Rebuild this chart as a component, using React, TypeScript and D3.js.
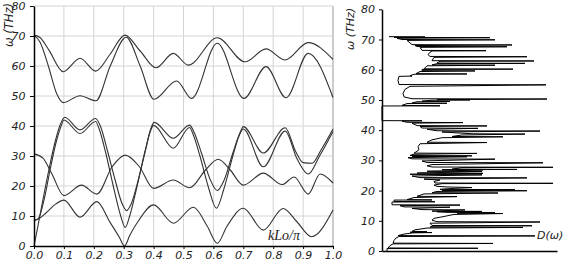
import React, { useRef, useEffect } from 'react';
import * as d3 from 'd3';

type Pt = [number, number];

// tick values
const kTicks = [0, 0.1, 0.2, 0.3, 0.4, 0.5, 0.6, 0.7, 0.8, 0.9, 1.0];
const omegaTicks = [0, 10, 20, 30, 40, 50, 60, 70, 80];

// dispersion branches [kLo/pi, omega THz]
const bandTopUpper: Pt[] = [
  [0, 70.3], [0.02, 69.5], [0.05, 65.3], [0.098, 58.1], [0.154, 62.6], [0.206, 58.3],
  [0.255, 64], [0.304, 70.3], [0.355, 65], [0.408, 59.4], [0.466, 64.2], [0.516, 60.3],
  [0.613, 69.4], [0.706, 61.4], [0.776, 65.7], [0.839, 62], [0.917, 67.8], [1.0, 62.2],
];
const bandTopLower: Pt[] = [
  [0, 70.3], [0.02, 68], [0.048, 60], [0.075, 51], [0.098, 47.8], [0.154, 50.1], [0.207, 48.4],
  [0.255, 60], [0.308, 69.6], [0.355, 60], [0.401, 48.9], [0.477, 55], [0.527, 49.2],
  [0.613, 67.6], [0.702, 49.2], [0.776, 59.8], [0.843, 49.4], [0.917, 64.2], [1.0, 49.5],
];
const bandPairUpper: Pt[] = [
  [0, 0], [0.01, 5], [0.03, 15.5], [0.05, 25.5], [0.07, 34.5], [0.088, 40.5], [0.103, 42.9],
  [0.154, 38.7], [0.206, 42.5], [0.222, 40], [0.245, 32], [0.27, 22.5], [0.295, 14],
  [0.31, 11.8], [0.325, 14], [0.35, 22.5], [0.373, 32], [0.392, 39.5], [0.402, 41.2],
  [0.466, 35.9], [0.52, 40.3], [0.535, 38], [0.56, 31], [0.59, 22], [0.613, 18.5],
  [0.636, 22], [0.665, 31], [0.69, 38], [0.7, 39.8], [0.767, 31], [0.84, 39.4],
  [0.875, 31.5], [0.9, 27.8], [0.93, 27.6], [0.96, 32], [1.0, 39],
];
const bandPairLower: Pt[] = [
  [0, 8.5], [0.015, 9.2], [0.035, 16], [0.055, 26], [0.075, 35], [0.09, 39.8], [0.1, 42],
  [0.154, 37.5], [0.206, 41.5], [0.218, 39], [0.24, 31], [0.265, 20], [0.29, 10],
  [0.305, 6.2], [0.32, 10], [0.345, 20], [0.37, 31], [0.39, 38.5], [0.4, 40.2],
  [0.466, 32.6], [0.52, 39.5], [0.533, 37], [0.555, 30], [0.585, 19], [0.61, 12.6],
  [0.635, 19], [0.665, 30], [0.687, 37], [0.7, 39], [0.767, 26.4], [0.84, 38.3],
  [0.88, 29], [0.917, 24], [0.955, 30], [1.0, 38.2],
];
const bandMiddle: Pt[] = [
  [0, 30.7], [0.03, 29.3], [0.06, 24], [0.1, 16.8], [0.159, 20.3], [0.21, 17.3],
  [0.262, 26.5], [0.305, 30.3], [0.352, 26.5], [0.4, 19.2], [0.466, 22], [0.52, 19.4],
  [0.575, 25.5], [0.616, 28.9], [0.655, 25.5], [0.7, 20.3], [0.767, 24.3], [0.83, 20.5],
  [0.87, 23], [0.917, 17.3], [0.957, 24], [1.0, 21],
];
const bandLowest: Pt[] = [
  [0, 8.5], [0.015, 9], [0.04, 11], [0.07, 13.8], [0.1, 15.3], [0.154, 9.6], [0.21, 14.8],
  [0.255, 7.8], [0.285, 3], [0.303, 0], [0.32, 3.5], [0.35, 8.5], [0.4, 13.7], [0.466, 7.6],
  [0.533, 12.9], [0.58, 6.5], [0.613, 0.9], [0.645, 6.5], [0.7, 12.6], [0.767, 5.3],
  [0.833, 12.5], [0.88, 8], [0.928, 3.1], [1.0, 12],
];
const bands = [bandTopUpper, bandTopLower, bandPairUpper, bandPairLower, bandMiddle, bandLowest];

// density of states [omega THz, D arb.]
const dos: Pt[] = [
  [0, 5], [0.8, 5], [0.9, 96], [1.0, 6], [1.8, 8], [2.35, 11], [2.5, 111], [2.6, 11],
  [3.5, 12], [4.3, 14], [4.8, 17], [5.0, 153], [5.1, 16], [5.6, 22], [6.0, 31], [6.1, 50],
  [6.2, 28], [6.4, 45], [6.5, 30], [7.0, 33], [7.6, 45], [7.8, 141], [7.9, 48], [8.2, 50],
  [8.35, 150], [8.45, 50], [9.2, 48], [9.6, 158], [9.7, 55], [10.2, 50], [10.8, 52],
  [11.3, 60], [12.1, 72], [12.4, 121], [12.5, 75], [12.7, 113], [12.8, 65], [13.0, 55],
  [13.1, 100], [13.2, 50], [13.6, 83], [13.7, 40], [14.1, 30], [14.5, 68], [14.6, 22],
  [15.0, 18], [15.2, 78], [15.3, 10], [16.2, 10], [16.3, 53], [16.4, 12], [16.85, 12],
  [16.9, 50], [17.0, 25], [17.7, 32], [18.0, 75], [18.1, 35], [18.9, 42], [19.2, 116],
  [19.3, 50], [19.7, 55], [19.95, 145], [20.05, 60], [20.3, 133], [20.4, 58], [20.7, 70],
  [21.0, 90], [21.2, 65], [21.4, 55], [21.8, 52], [22.3, 60], [22.4, 171], [22.5, 53],
  [23.0, 52], [23.5, 58], [23.8, 42], [24.2, 145], [24.3, 38], [24.8, 30], [25.2, 100],
  [25.4, 28], [25.7, 101], [25.8, 35], [26.3, 100], [26.4, 45], [26.8, 101], [26.9, 60],
  [27.0, 135], [27.1, 70], [27.6, 80], [27.7, 171], [27.8, 50], [28.2, 45], [28.6, 50],
  [29.2, 161], [29.3, 45], [29.8, 40], [30.4, 113], [30.5, 30], [30.9, 26], [31.2, 85],
  [31.3, 30], [31.5, 90], [31.6, 28], [32.0, 31], [32.3, 95], [32.4, 32], [33.0, 35],
  [33.5, 37], [34.5, 36], [35.5, 38], [35.9, 105], [36.0, 45], [36.8, 50], [37.5, 60],
  [37.8, 121], [37.9, 70], [38.4, 80], [38.7, 143], [38.8, 90], [39.4, 60], [39.7, 158],
  [39.8, 55], [40.3, 45], [40.6, 96], [40.7, 40], [41.2, 38], [41.4, 105], [41.5, 35],
  [42.3, 30], [42.5, 81], [42.6, 25], [43.0, 20], [43.1, 40], [43.15, 0], [48.0, 0],
  [48.05, 58], [48.2, 20], [48.8, 25], [48.9, 65], [49.0, 30], [49.4, 35], [49.5, 68],
  [49.6, 40], [49.9, 50], [50.0, 88], [50.1, 55], [50.3, 165], [50.4, 30], [51.0, 22],
  [52.2, 21], [53.5, 23], [54.5, 28], [55.0, 164], [55.1, 17], [56.5, 16], [57.8, 17],
  [57.9, 30], [58.0, 28], [58.5, 32], [58.6, 85], [58.7, 34], [59.4, 38], [59.6, 93],
  [59.7, 40], [60.1, 40], [60.2, 131], [60.3, 42], [61.3, 45], [61.5, 113], [61.6, 50],
  [62.0, 55], [62.1, 143], [62.2, 55], [62.8, 58], [62.9, 152], [63.0, 50], [64.1, 52],
  [64.3, 145], [64.4, 48], [65.0, 46], [65.8, 48], [66.2, 50], [66.3, 104], [66.4, 40],
  [67.4, 38], [67.6, 125], [67.7, 35], [68.0, 33], [68.2, 130], [68.3, 30], [69.7, 25],
  [69.9, 113], [70.0, 20], [70.4, 15], [70.6, 108], [70.7, 12], [70.85, 43], [70.95, 7],
];

const tickFont = (g: d3.Selection<SVGGElement, unknown, null, undefined>) => {
  g.selectAll('text')
    .attr('font-family', 'DejaVu Sans')
    .attr('font-style', 'italic')
    .attr('font-size', 11)
    .attr('fill', '#222');
};

const App = () => {
  const ref = useRef<SVGSVGElement>(null);

  useEffect(() => {
    const svg = d3.select(ref.current);
    svg.selectAll('*').remove();

    // left panel: dispersion
    const x = d3.scaleLinear().domain([0, 1]).range([34, 333]);
    const y = d3.scaleLinear().domain([0, 80]).range([246, 6]);

    const grid = svg.append('g').attr('stroke', '#d4d4d4').attr('stroke-width', 1);
    kTicks.slice(1).forEach(k => {
      grid.append('line')
        .attr('x1', x(k)).attr('x2', x(k))
        .attr('y1', y(0)).attr('y2', y(80))
        .attr('stroke', k === 1 ? '#999' : '#d4d4d4');
    });
    omegaTicks.slice(1).forEach(w => {
      grid.append('line')
        .attr('x1', x(0)).attr('x2', x(1))
        .attr('y1', y(w)).attr('y2', y(w));
    });

    const line = d3.line<Pt>()
      .x(d => x(d[0]))
      .y(d => y(d[1]))
      .curve(d3.curveMonotoneX);

    svg.append('g')
      .selectAll('path')
      .data(bands)
      .join('path')
      .attr('d', d => line(d))
      .attr('fill', 'none')
      .attr('stroke', '#333')
      .attr('stroke-width', 1.1);

    const yAxis = svg.append('g')
      .attr('transform', `translate(${x(0)},0)`)
      .call(d3.axisLeft(y).tickValues(omegaTicks).tickSize(4).tickSizeOuter(0).tickPadding(4.5));
    yAxis.select('.domain').attr('stroke', '#000').attr('stroke-width', 1.5);
    tickFont(yAxis);

    const xAxis = svg.append('g')
      .attr('transform', `translate(0,${y(0)})`)
      .call(d3.axisBottom(x).tickValues(kTicks).tickFormat(d3.format('.1f')).tickSize(3).tickSizeOuter(0).tickPadding(2.5));
    xAxis.select('.domain').attr('stroke', '#000').attr('stroke-width', 1.5);
    tickFont(xAxis);

    svg.append('text')
      .attr('transform', 'translate(12.5,47) rotate(-90)')
      .attr('font-family', 'DejaVu Sans')
      .attr('font-style', 'italic')
      .attr('font-size', 11.5)
      .attr('fill', '#222')
      .text('ω (THz)');

    svg.append('text')
      .attr('x', 268)
      .attr('y', 240)
      .attr('font-family', 'Liberation Serif')
      .attr('font-style', 'italic')
      .attr('font-size', 14)
      .attr('fill', '#222')
      .text('kLo/π');

    // right panel: density of states
    const xd = d3.scaleLinear().domain([0, 175]).range([382, 557]);
    const yd = d3.scaleLinear().domain([0, 80]).range([251, 9.3]);

    const dosLine = d3.line<Pt>()
      .x(d => xd(d[1]))
      .y(d => yd(d[0]));

    svg.append('path')
      .attr('d', dosLine(dos))
      .attr('fill', 'none')
      .attr('stroke', '#000')
      .attr('stroke-width', 1);

    const yAxisD = svg.append('g')
      .attr('transform', `translate(${xd(0)},0)`)
      .call(d3.axisLeft(yd).tickValues(omegaTicks).tickSize(3).tickSizeOuter(0).tickPadding(4));
    yAxisD.select('.domain').attr('stroke', '#000').attr('stroke-width', 1.5);
    tickFont(yAxisD);

    const xAxisD = svg.append('g')
      .attr('transform', `translate(0,${yd(0)})`)
      .call(d3.axisBottom(xd).tickValues([]).tickSizeOuter(0));
    xAxisD.select('.domain').attr('stroke', '#000').attr('stroke-width', 1.5);

    svg.append('text')
      .attr('transform', 'translate(354,50) rotate(-90)')
      .attr('font-family', 'DejaVu Sans')
      .attr('font-style', 'italic')
      .attr('font-size', 11)
      .attr('fill', '#222')
      .text('ω (THz)');

    svg.append('text')
      .attr('x', 537)
      .attr('y', 239)
      .attr('font-family', 'DejaVu Sans')
      .attr('font-style', 'italic')
      .attr('font-size', 11)
      .attr('fill', '#222')
      .text('D(ω)');
  }, []);

  return (
    <svg
      ref={ref}
      width={563}
      height={263}
      style={{ position: 'absolute', left: 0, top: 0, background: '#fff' }}
    />
  );
};

export default App;
